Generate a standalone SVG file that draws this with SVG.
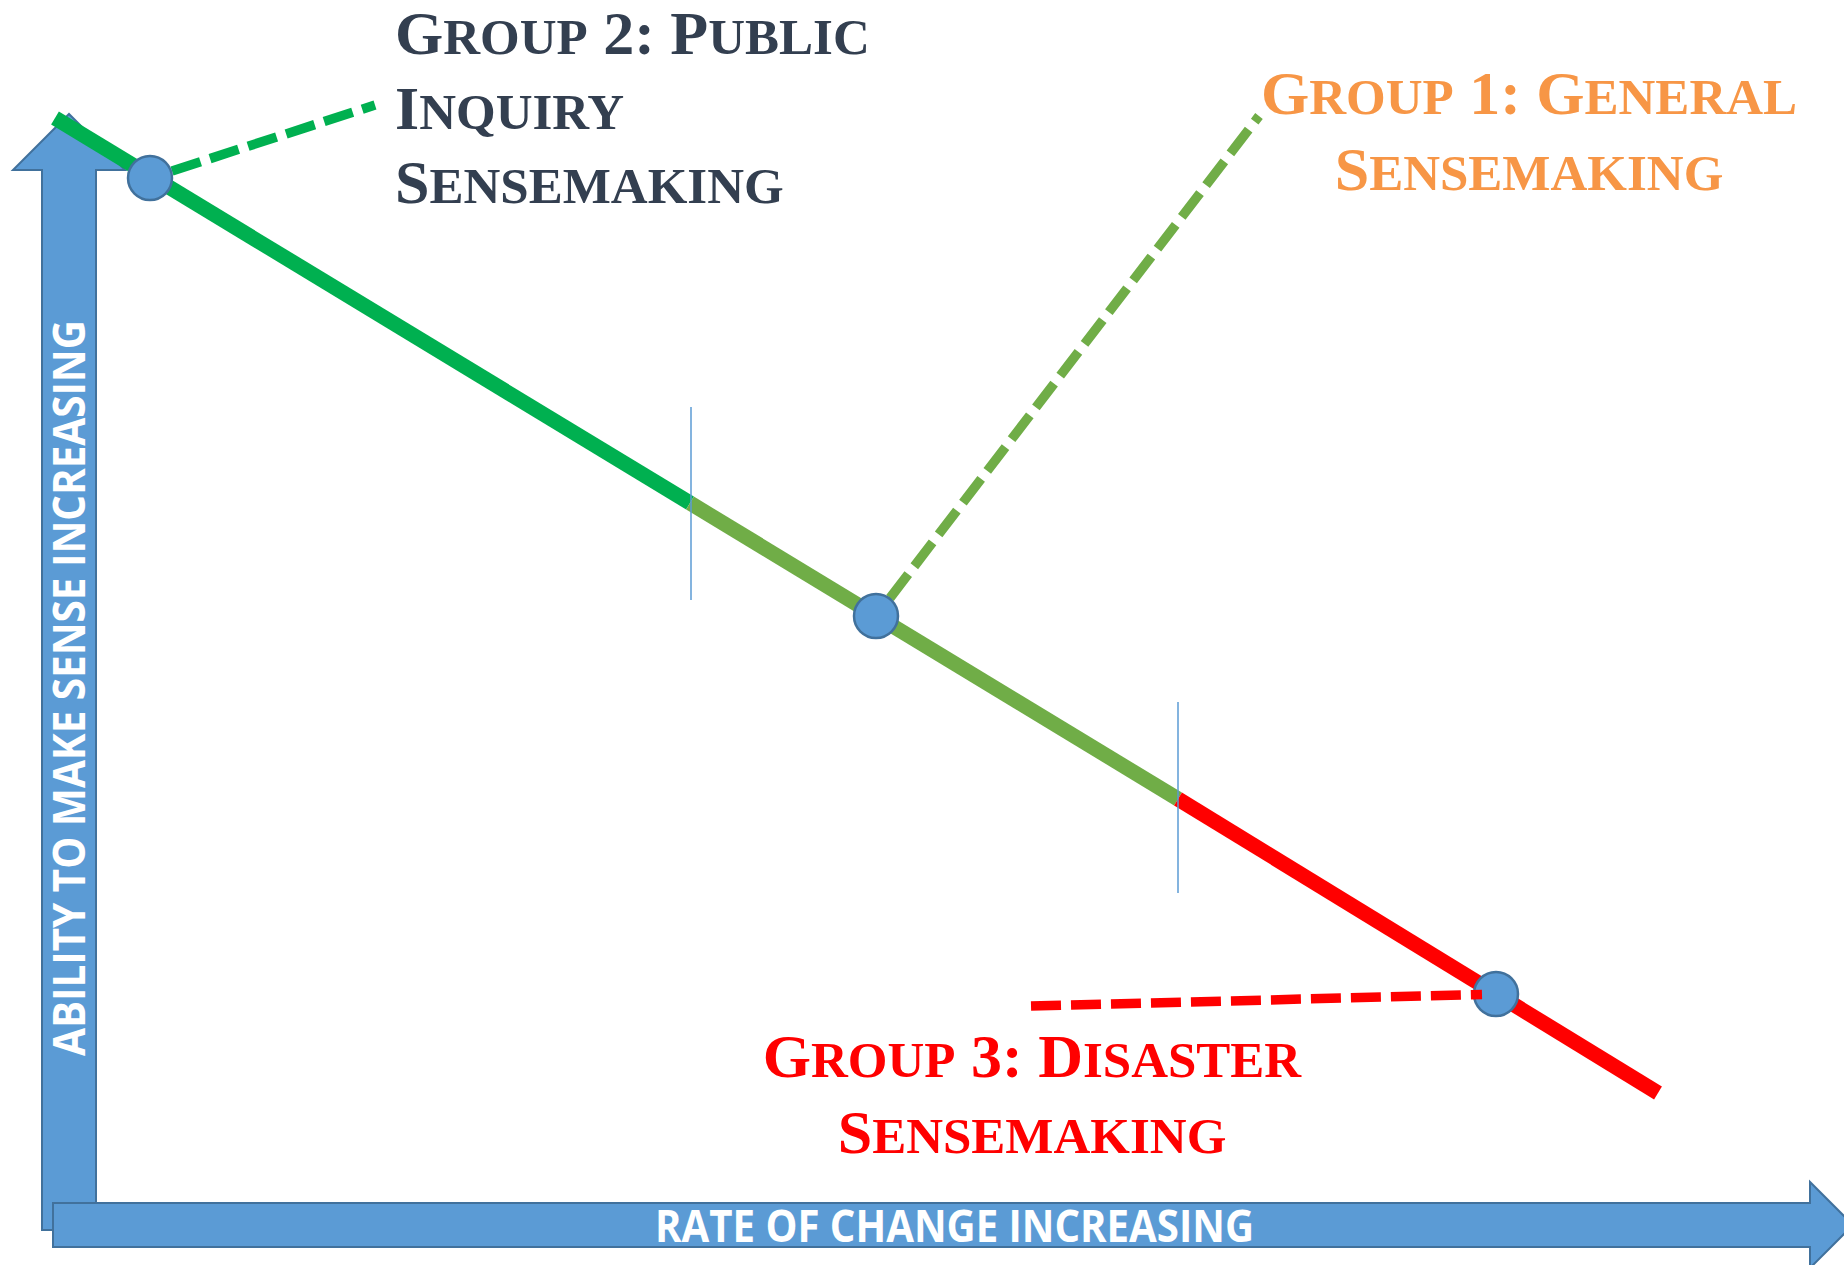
<svg xmlns="http://www.w3.org/2000/svg" width="1844" height="1265" viewBox="0 0 1844 1265">
  <style>
    .axis { fill: #5B9BD5; stroke: #41719C; stroke-width: 2; stroke-linejoin: miter; }
    .axis-label { font-family: "Open Sans", "Liberation Sans", sans-serif; font-weight: 700; font-size: 44px; fill: #FFFFFF; }
    .trend { fill: none; stroke-width: 15; stroke-linecap: butt; }
    .tick { stroke: #5B9BD5; stroke-width: 1.5; }
    .leader { fill: none; stroke-width: 9.5; stroke-dasharray: 30 10; stroke-linecap: butt; }
    .point { fill: #5B9BD5; stroke: #41719C; stroke-width: 2.5; }
    .title { font-family: "Liberation Serif", "Times New Roman", serif; font-weight: 700; }
    .big { font-size: 62px; }
    .sm { font-size: 51px; }
  </style>

  <!-- axes -->
  <g id="y-axis">
    <path class="axis" d="M42,1230 L42,170 L13,170 L69,114 L125,170 L96,170 L96,1230 Z"/>
    <text class="axis-label" transform="translate(85,1056) rotate(-90)" textLength="736" lengthAdjust="spacingAndGlyphs">ABILITY TO MAKE SENSE INCREASING</text>
  </g>
  <g id="x-axis">
    <path class="axis" d="M53,1203 L1810,1203 L1810,1182 L1853,1225 L1810,1268 L1810,1247 L53,1247 Z"/>
    <text class="axis-label" x="655" y="1242" textLength="599" lengthAdjust="spacingAndGlyphs">RATE OF CHANGE INCREASING</text>
  </g>

  <!-- trend line in three zones plus leaders -->
  <g id="connectors">
    <line class="trend" stroke="#00B050" x1="55" y1="118" x2="690" y2="503"/>
    <line class="trend" stroke="#70AD47" x1="690" y1="503" x2="1178" y2="799"/>
    <line class="trend" stroke="#FF0000" x1="1178" y1="799" x2="1658" y2="1093"/>
    <line class="tick" x1="691" y1="407" x2="691" y2="600"/>
    <line class="tick" x1="1178" y1="702" x2="1178" y2="893"/>
    <line class="leader" stroke="#00B050" x1="172" y1="171" x2="375" y2="105"/>
    <line class="leader" stroke="#70AD47" x1="890" y1="598" x2="1259" y2="116"/>
  </g>

  <g id="point-group2"><circle class="point" cx="150" cy="178" r="22"/></g>
  <g id="point-group1"><circle class="point" cx="876" cy="616" r="22"/></g>
  <g id="point-group3"><circle class="point" cx="1496" cy="994" r="22"/></g>

  <g id="leader-group3">
    <line class="leader" stroke="#FF0000" stroke-width="10" x1="1031" y1="1006" x2="1482" y2="994.5"/>
  </g>

  <!-- labels -->
  <g id="label-group2" class="title" fill="#333F50">
    <text x="395" y="54"><tspan class="big">G</tspan><tspan class="sm">ROUP</tspan><tspan class="big"> 2: P</tspan><tspan class="sm">UBLIC</tspan></text>
    <text x="395" y="129"><tspan class="big">I</tspan><tspan class="sm">NQUIRY</tspan></text>
    <text x="395" y="203"><tspan class="big">S</tspan><tspan class="sm">ENSEMAKING</tspan></text>
  </g>
  <g id="label-group1" class="title" fill="#F79646" text-anchor="middle">
    <text x="1529" y="114"><tspan class="big">G</tspan><tspan class="sm">ROUP</tspan><tspan class="big"> 1: G</tspan><tspan class="sm">ENERAL</tspan></text>
    <text x="1529" y="190"><tspan class="big">S</tspan><tspan class="sm">ENSEMAKING</tspan></text>
  </g>
  <g id="label-group3" class="title" fill="#FF0000" text-anchor="middle">
    <text x="1032" y="1077"><tspan class="big">G</tspan><tspan class="sm">ROUP</tspan><tspan class="big"> 3: D</tspan><tspan class="sm">ISASTER</tspan></text>
    <text x="1032" y="1153"><tspan class="big">S</tspan><tspan class="sm">ENSEMAKING</tspan></text>
  </g>
</svg>
